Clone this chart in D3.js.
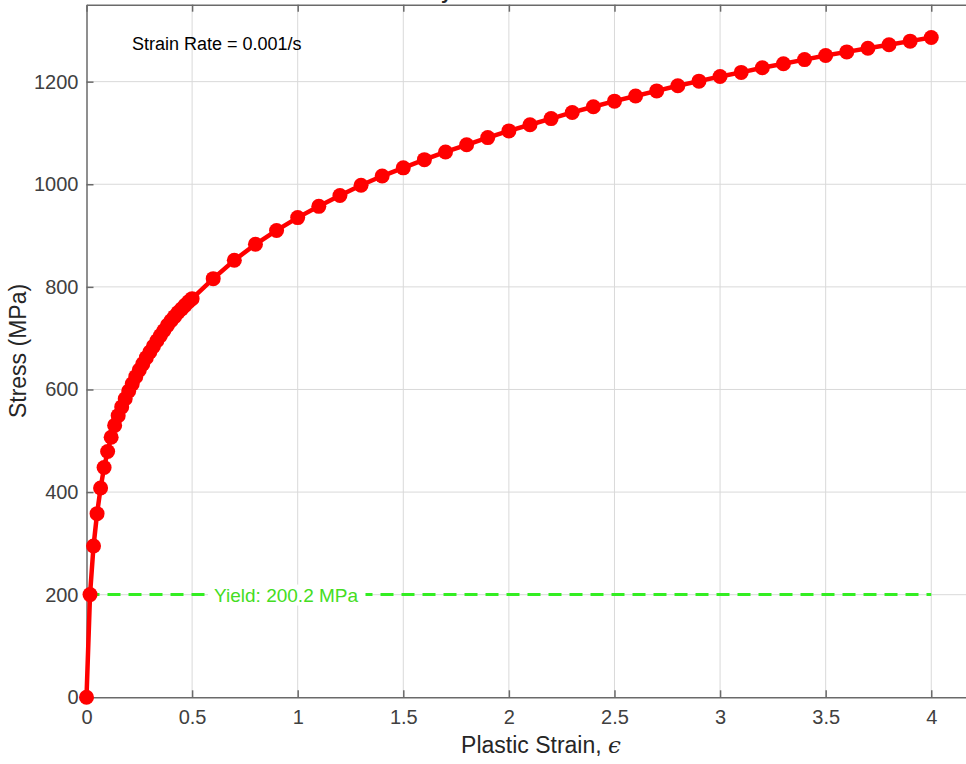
<html>
<head>
<meta charset="utf-8">
<script src="https://d3js.org/d3.v7.min.js"></script>
<style>
  body { margin: 0; background: #fff; }
  svg { display: block; font-family: "Liberation Sans", Arial, sans-serif; }
  .grid line { stroke: #d9d9d9; stroke-width: 1; }
  .axis path, .axis line { stroke: #6a6a6a; stroke-width: 1.5; }
  .axis text { fill: #404040; font-size: 20px; }
</style>
</head>
<body>
<svg width="966" height="764"></svg>
<script>
// plastic strain and flow stress
var strain = [0, 0.0167, 0.0333, 0.05, 0.0667, 0.0833, 0.1, 0.1167, 0.1333, 0.15,
  0.1667, 0.1833, 0.2, 0.2167, 0.2333, 0.25, 0.2667, 0.2833, 0.3, 0.3167,
  0.3333, 0.35, 0.3667, 0.3833, 0.4, 0.4167, 0.4333, 0.45, 0.4667, 0.4833, 0.5,
  0.6, 0.7, 0.8, 0.9, 1.0, 1.1, 1.2, 1.3, 1.4, 1.5, 1.6, 1.7, 1.8, 1.9, 2.0,
  2.1, 2.2, 2.3, 2.4, 2.5, 2.6, 2.7, 2.8, 2.9, 3.0, 3.1, 3.2, 3.3, 3.4, 3.5,
  3.6, 3.7, 3.8, 3.9, 4.0];
var stress = [0, 200.2, 295, 358, 408, 448, 479, 507, 530, 549,
  566, 582, 597, 611, 625, 638, 650, 662, 673, 684,
  695, 705, 715, 725, 734, 742, 750, 757, 764, 771, 777,
  816, 852, 883, 910, 935, 957, 978, 998, 1016, 1032, 1048, 1063, 1077, 1091, 1104,
  1116, 1128, 1140, 1151, 1162, 1172, 1182, 1192, 1201, 1210, 1218, 1227, 1235, 1243, 1251,
  1258, 1265, 1272, 1279, 1286];
var xTicks = [0, 0.5, 1, 1.5, 2, 2.5, 3, 3.5, 4];
var yTicks = [0, 200, 400, 600, 800, 1000, 1200];
var yieldStress = 200.2;
var yieldLabel = "Yield: 200.2 MPa";
var rateLabel = "Strain Rate = 0.001/s";

var svg = d3.select("svg");
var pLeft = 86.5, pRight = 973.5, pTop = 4.7, pBottom = 697.3;

var x = d3.scaleLinear().domain([0, 4.2]).range([pLeft, pRight]);
var y = d3.scaleLinear().domain([0, 1350]).range([pBottom, pTop]);

// title sits above the visible area, only a descender peeks in
var title = svg.append("text")
    .attr("y", -1)
    .style("font-size", "20px")
    .style("font-weight", "bold")
    .style("fill", "#262626")
    .text("Stress-Strain Curve by Model");
var yi = title.text().indexOf("y");
var yx = title.node().getStartPositionOfChar(yi).x;
title.attr("x", 441 - yx);

// grid
svg.append("g").attr("class", "grid")
  .selectAll("line").data(xTicks.slice(1)).enter().append("line")
    .attr("x1", d => x(d)).attr("x2", d => x(d))
    .attr("y1", pTop).attr("y2", pBottom);
svg.append("g").attr("class", "grid")
  .selectAll("line").data(yTicks.slice(1)).enter().append("line")
    .attr("x1", pLeft).attr("x2", pRight)
    .attr("y1", d => y(d)).attr("y2", d => y(d));

// axes, ticks pointing inward like the original
svg.append("g").attr("class", "axis")
    .attr("transform", "translate(0," + pBottom + ")")
    .call(d3.axisBottom(x).tickValues(xTicks).tickSizeInner(-7).tickSizeOuter(0)
      .tickPadding(13).tickFormat(d3.format("~g")));
svg.append("g").attr("class", "axis")
    .attr("transform", "translate(" + pLeft + ",0)")
    .call(d3.axisLeft(y).tickValues(yTicks).tickSizeInner(-7).tickSizeOuter(0)
      .tickPadding(8).tickFormat(d3.format("d")));
svg.append("g").attr("class", "axis")
    .attr("transform", "translate(0," + pTop + ")")
    .call(d3.axisTop(x).tickValues(xTicks).tickSizeInner(-7).tickSizeOuter(0).tickFormat(""));
svg.append("g").attr("class", "axis")
    .attr("transform", "translate(" + pRight + ",0)")
    .call(d3.axisRight(y).tickValues(yTicks).tickSizeInner(-7).tickSizeOuter(0).tickFormat(""));

// axis labels
svg.append("text")
    .attr("x", 541).attr("y", 753)
    .attr("text-anchor", "middle")
    .style("font-size", "23px").style("fill", "#262626")
    .html('Plastic Strain, <tspan style="font-family: \'DejaVu Serif\', serif; font-style: italic">ϵ</tspan>');
svg.append("text")
    .attr("transform", "translate(26," + ((pTop + pBottom) / 2) + ") rotate(-90)")
    .attr("text-anchor", "middle")
    .style("font-size", "23px").style("fill", "#262626")
    .text("Stress (MPa)");

// yield line
svg.append("line")
    .attr("x1", x(0)).attr("x2", x(4))
    .attr("y1", y(yieldStress)).attr("y2", y(yieldStress))
    .attr("stroke", "#33ee22").attr("stroke-width", 3)
    .attr("stroke-dasharray", "13,8");
var yl = svg.append("g");
var ylText = yl.append("text")
    .attr("x", x(0.604)).attr("y", y(yieldStress) + 7)
    .style("font-size", "19px").style("fill", "#44dd22")
    .text(yieldLabel);
var bb = ylText.node().getBBox();
yl.insert("rect", "text")
    .attr("x", bb.x - 6).attr("y", bb.y)
    .attr("width", bb.width + 13).attr("height", bb.height)
    .attr("fill", "#fff");

// curve
var data = d3.zip(strain, stress);
svg.append("path")
    .datum(data)
    .attr("fill", "none")
    .attr("stroke", "#ff0000")
    .attr("stroke-width", 4.5)
    .attr("d", d3.line().x(d => x(d[0])).y(d => y(d[1])));
svg.append("g").selectAll("circle").data(data).enter().append("circle")
    .attr("cx", d => x(d[0]))
    .attr("cy", d => y(d[1]))
    .attr("r", 7.5)
    .attr("fill", "#ff0000");

svg.append("text")
    .attr("x", 132).attr("y", 50)
    .style("font-size", "18px").style("fill", "#000")
    .text(rateLabel);
</script>
</body>
</html>
